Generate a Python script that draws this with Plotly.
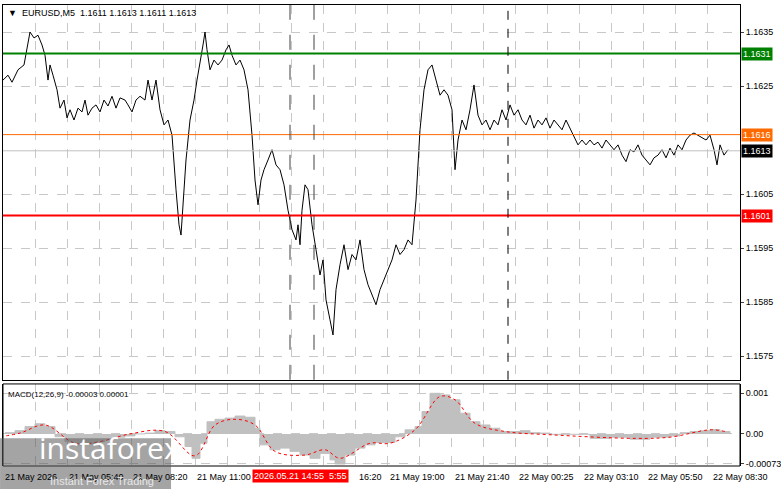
import plotly.graph_objects as go

# price path, 5 min bars (bar index)
bars = [1.5,4,6,9,12,14,15,17,19,21,22.5,24,25,26.5,28.5,30,32,33.5,35,37,39,41,42.5,44,46,48,50,52,54,56,58,60,62.5,64,66,68,70,72.5,74,76,78,80,82,84,86,88,89.5,90.5,91.5,93,95,97,98.5,100,101.5,102.5,103.5,105,107,109,111,113,114.5,116,118,120,122,124,126,127.5,129,130.5,132,134,136,138,140,142,144,146,148,149,150,151,152.5,154,156,158,160,161.5,163,165,166.5,168,170,172,174,176,178,180,182,184,186,188,190,192,194,196,198,200,202,204,206,208,210,212,214,216,218,220,222,224,226,227.5,229,231,233,235,237,239,241,243,245,247,249,251,253,255,257,259,261,263,265,267,269,271,273,275,277,279,281,283,285,287,289,291,293,295,297,299,301,303,305,307,309,311,313,315,317,319,321,323,325,327,329,331,333,335,337,339,341,343,345,347,349,351,353,355,357,358.5,360,362,364]
price = [1.16261,1.16270,1.16257,1.16280,1.16289,1.16326,1.16350,1.16339,1.16344,1.16326,1.16307,1.16261,1.16289,1.16270,1.16243,1.16209,1.16224,1.16191,1.16206,1.16187,1.16209,1.16202,1.16224,1.16196,1.16209,1.16215,1.16202,1.16224,1.16213,1.16231,1.16209,1.16228,1.16224,1.16215,1.16202,1.16224,1.16231,1.16224,1.16261,1.16224,1.16261,1.16206,1.16178,1.16187,1.16159,1.16058,1.15993,1.15974,1.16030,1.16113,1.16187,1.16224,1.16261,1.16298,1.16326,1.16350,1.16317,1.16280,1.16298,1.16289,1.16298,1.16317,1.16326,1.16307,1.16289,1.16298,1.16280,1.16243,1.16159,1.16076,1.16030,1.16076,1.16095,1.16113,1.16132,1.16104,1.16095,1.16067,1.16020,1.15984,1.15965,1.15993,1.15956,1.16020,1.16067,1.16058,1.15993,1.15947,1.15900,1.15928,1.15854,1.15817,1.15789,1.15873,1.15919,1.15956,1.15910,1.15938,1.15928,1.15965,1.15910,1.15882,1.15863,1.15845,1.15873,1.15891,1.15910,1.15928,1.15956,1.15938,1.15947,1.15965,1.15956,1.16039,1.16169,1.16243,1.16280,1.16289,1.16261,1.16233,1.16243,1.16233,1.16206,1.16095,1.16150,1.16187,1.16169,1.16206,1.16252,1.16196,1.16178,1.16187,1.16169,1.16187,1.16178,1.16206,1.16187,1.16215,1.16196,1.16206,1.16187,1.16178,1.16196,1.16172,1.16187,1.16178,1.16191,1.16172,1.16187,1.16178,1.16169,1.16187,1.16172,1.16159,1.16141,1.16150,1.16141,1.16150,1.16141,1.16146,1.16135,1.16150,1.16141,1.16132,1.16141,1.16122,1.16110,1.16132,1.16128,1.16141,1.16122,1.16113,1.16104,1.16117,1.16122,1.16132,1.16117,1.16135,1.16122,1.16141,1.16132,1.16150,1.16159,1.16163,1.16159,1.16154,1.16150,1.16159,1.16132,1.16104,1.16141,1.16122,1.16132]

hist_bars = [2.5,7.5,12.5,17.5,22.5,27.5,32.5,37.5,42.5,47.5,52.5,57.5,62.5,67.5,72.5,77.5,82.5,87.5,92.5,96,100,103.5,107.5,112.5,117.5,122.5,127.5,130,135,140,145,150,155,160,165,167.5,172.5,177.5,182.5,187.5,192.5,197.5,202.5,207.5,211,215,220,225,230,235,240,245,250,255,260,265,270,275,285,295,305,315,325,335,340,345,350,355,360,365]
hist = [0.00003,0.00008,0.00018,0.00025,0.00018,-0.00007,-0.00019,-0.00027,-0.00025,-0.00019,-0.00013,-0.00008,-0.00005,0,0.00002,0.00008,0.00006,-0.00007,-0.00031,-0.0006,-0.00023,0.0003,0.00036,0.00039,0.00044,0.00041,0.00014,-0.00027,-0.00039,-0.00035,-0.00043,-0.00052,-0.0006,-0.00048,-0.00064,-0.00074,-0.00052,-0.00035,-0.00027,-0.00021,-0.00021,-0.00007,0.0001,0.00018,0.00055,0.001,0.00096,0.00084,0.00051,0.0003,0.00022,0.00014,0.00006,0.00006,0.00008,0.00003,0.00002,-0.00001,-0.00001,-0.00011,-0.00008,-0.00013,-0.00008,-0.00005,0.00003,0.00006,0.00008,0.00011,0.00006,-0.00001]
sig_bars = [0,10,22.5,37.5,50,65,82.5,97.5,107.5,117.5,127.5,137.5,152.5,162.5,170,185,195,207.5,220,227.5,237.5,252.5,275,317.5,335,355,362.5]
signal = [-0.00007,0.00002,0.00022,-0.00023,-0.00019,0,0.00006,-0.00054,0.00022,0.00036,0.00022,-0.00043,-0.00052,-0.00039,-0.0006,-0.00023,-0.00023,0.0001,0.00092,0.00084,0.00026,0.00006,-0.00002,-0.00011,-0.00008,0.0001,0.00006]

levels = [1.1631, 1.1616, 1.1601]
level_colors = ["#008000", "#ff6a00", "#ff0000"]
last_price = 1.1613
price_ticks = [1.1575, 1.1585, 1.1595, 1.1605, 1.1625, 1.1635]
macd_ticks = [0.001, 0.0, -0.00073]
macd_tick_text = ["0.001", "0.00", "-0.00073"]
time_bars = [1.5, 33.5, 65.5, 97.5, 178.5, 194, 226.5, 258.5, 291, 323, 355.5]
time_labels = ["21 May 2026", "21 May 05:40", "21 May 08:20", "21 May 11:00", "16:20", "21 May 19:00",
               "21 May 21:40", "22 May 00:25", "22 May 03:10", "22 May 05:50", "22 May 08:30"]
cursor_bars = [145, 157]
session_bar = 254

FONT = "Liberation Sans"
fig = go.Figure()
fig.add_trace(go.Scatter(x=hist_bars, y=hist, xaxis="x", yaxis="y2", mode="lines",
                         line=dict(color="#c0c0c0", width=1, shape="hv"), fill="tozeroy",
                         fillcolor="#c0c0c0"))
fig.add_trace(go.Scatter(x=sig_bars, y=signal, xaxis="x", yaxis="y2", mode="lines",
                         line=dict(color="#ff0000", width=1, dash="dot", shape="spline")))
for lv, c in zip(levels, level_colors):
    fig.add_hline(y=lv, line=dict(color=c, width=1 if lv == 1.1616 else 2), yref="y")
fig.add_hline(y=last_price, line=dict(color="#c0c0c0", width=1), yref="y")
fig.add_trace(go.Scatter(x=bars, y=price, mode="lines", line=dict(color="black", width=1)))

for b in cursor_bars:
    fig.add_vline(x=b, line=dict(color="#404040", width=1, dash="longdash"))
fig.add_vline(x=session_bar, line=dict(color="black", width=1, dash="dash"))

grid = dict(showgrid=True, gridcolor="#c8c8c8", griddash="dash", gridwidth=1)
fig.update_layout(
    width=781, height=489, margin=dict(l=3, r=41, t=5, b=23),
    paper_bgcolor="white", plot_bgcolor="white", showlegend=False,
    font=dict(family=FONT, size=9, color="black"),
    xaxis=dict(range=[1.5, 370], tick0=1.5, dtick=16, showticklabels=False, zeroline=False,
               showline=True, linecolor="black", mirror=True, automargin=False, **grid),
    yaxis=dict(domain=[0.187, 1], range=[1.15706, 1.1640], side="right", tickvals=price_ticks,
               tickformat=".4f", ticks="outside", ticklen=3, zeroline=False, automargin=False,
               showline=True, linecolor="black", mirror=True, tickfont=dict(size=9), **grid),
    yaxis2=dict(domain=[0, 0.178], range=[-0.00079, 0.00123], side="right", tickvals=macd_ticks,
                ticktext=macd_tick_text, ticks="outside", ticklen=3, zeroline=False, automargin=False,
                showline=True, linecolor="black", mirror=True, tickfont=dict(size=9), **grid),
)
# frame for MACD panel
fig.add_shape(type="rect", xref="x domain", yref="y2 domain", x0=0, x1=1, y0=0, y1=1,
              line=dict(color="black", width=1))

ann = []
for b, t in zip(time_bars, time_labels):
    ann.append(dict(x=b, y=0, xref="x", yref="paper", text=t, showarrow=False,
                    xanchor="left", yanchor="top", yshift=-4, font=dict(size=9)))
ann.append(dict(x=126, y=0, xref="x", yref="paper", text="2026.05.21 14:55  5:55", showarrow=False,
                xanchor="left", yanchor="top", yshift=-3, bgcolor="#ff0000", font=dict(size=9, color="white")))
label_vals = levels + [last_price]
label_bg = level_colors + ["black"]
for v, c in zip(label_vals, label_bg):
    ann.append(dict(x=1, xref="paper", y=v, yref="y", text=f"{v:.4f}", showarrow=False,
                    xanchor="left", xshift=1, bgcolor=c, font=dict(size=9, color="white"), borderpad=1))
ann.append(dict(x=0, y=1, xref="paper", yref="paper", text="▼  EURUSD,M5  1.1611 1.1613 1.1611 1.1613",
                showarrow=False, xanchor="left", yanchor="top", xshift=3, yshift=-1, font=dict(size=9)))
ann.append(dict(x=0, y=1, xref="paper", yref="y2 domain", text="MACD(12,26,9) -0.00003 0.00001",
                showarrow=False, xanchor="left", yanchor="top", xshift=3, yshift=-4, font=dict(size=8)))
ann.append(dict(x=0, y=0, xref="paper", yref="paper", text="instaforex", showarrow=False,
                xanchor="left", yanchor="bottom", xshift=34, yshift=-4, font=dict(size=30, color="white", family="Open Sans")))
ann.append(dict(x=0, y=0, xref="paper", yref="paper", text="Instant Forex Trading", showarrow=False,
                xanchor="left", yanchor="top", xshift=45, yshift=-7, font=dict(size=11, color="#e8e8e8")))
fig.update_layout(annotations=ann)
fig.add_shape(type="rect", xref="paper", yref="paper", x0=-0.004, x1=0.228, y0=-0.05, y1=0.06,
              fillcolor="rgba(90,90,90,0.55)", line=dict(width=0), layer="above")
fig.write_html("out.html", config={"displayModeBar": False},
               post_script="document.body.style.margin='0';document.body.style.overflow='hidden';")
